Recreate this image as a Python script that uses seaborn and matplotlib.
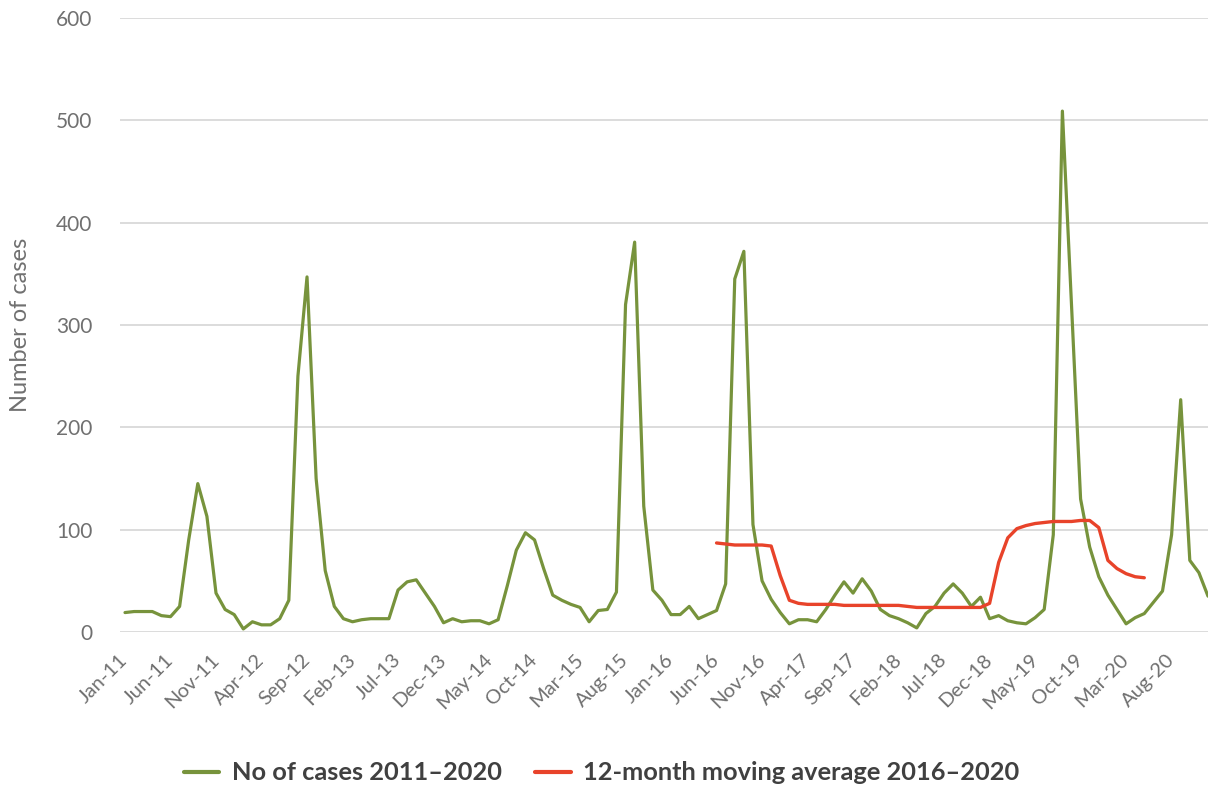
import matplotlib
matplotlib.use("Agg")
import matplotlib.pyplot as plt
import seaborn as sns
import pandas as pd
import numpy as np

# ---------------- data ----------------
months = ["Jan", "Feb", "Mar", "Apr", "May", "Jun", "Jul", "Aug", "Sep", "Oct", "Nov", "Dec"]
years = ["11", "12", "13", "14", "15", "16", "17", "18", "19", "20"]
month_labels = [f"{m}-{y}" for y in years for m in months]

cases_2011 = [19, 20, 20, 20, 16, 15, 25, 90, 145, 113, 38, 22]
cases_2012 = [17, 3, 10, 7, 7, 13, 31, 250, 347, 150, 60, 25]
cases_2013 = [13, 10, 12, 13, 13, 13, 41, 49, 51, 38, 25, 9]
cases_2014 = [13, 10, 11, 11, 8, 12, 45, 80, 97, 90, 62, 36]
cases_2015 = [31, 27, 24, 10, 21, 22, 39, 320, 381, 123, 41, 31]
cases_2016 = [17, 17, 25, 13, 17, 21, 47, 345, 372, 105, 50, 32]
cases_2017 = [19, 8, 12, 12, 10, 22, 36, 49, 38, 52, 40, 22]
cases_2018 = [16, 13, 9, 4, 18, 25, 38, 47, 38, 25, 34, 13]
cases_2019 = [16, 11, 9, 8, 14, 22, 95, 509, 320, 130, 83, 54]
cases_2020 = [36, 22, 8, 14, 18, 29, 40, 95, 227, 70, 58, 35]
cases = (cases_2011 + cases_2012 + cases_2013 + cases_2014 + cases_2015 +
         cases_2016 + cases_2017 + cases_2018 + cases_2019 + cases_2020)

# 12-month moving average, Jun-16 .. Jun-20
ma_start_label = "Jun-16"
moving_avg = [87, 86, 85, 85, 85, 85, 84, 55, 31, 28, 27, 27,
              27, 27, 26, 26, 26, 26, 26, 26, 26, 25, 24, 24,
              24, 24, 24, 24, 24, 24, 28, 68, 92, 101, 104, 106,
              107, 108, 108, 108, 109, 109, 102, 70, 62, 57, 54, 53]

tick_labels = month_labels[::5]

green_label = "No of cases 2011\u20132020"
red_label = "12-month moving average 2016\u20132020"
y_label = "Number of cases"

# ---------------- frames ----------------
idx = np.arange(len(cases))
df_cases = pd.DataFrame({"month": idx, "value": cases})
ma_start = month_labels.index(ma_start_label)
df_ma = pd.DataFrame({"month": np.arange(ma_start, ma_start + len(moving_avg)),
                      "value": moving_avg})

# ---------------- style ----------------
sns.set_theme(style="whitegrid")
plt.rcParams["font.family"] = ["Lato", "DejaVu Sans"]

GREEN = "#77933C"
RED = "#E8432A"
GRID = "#D9D9D9"
TXT = "#707070"

fig = plt.figure(figsize=(12.08, 7.92), dpi=100)
ax = fig.add_axes([120 / 1208, 1 - 632 / 792, 1 - 120 / 1208, (632 - 18) / 792])

sns.lineplot(data=df_cases, x="month", y="value", ax=ax, color=GREEN,
             linewidth=2.3, label=green_label)
sns.lineplot(data=df_ma, x="month", y="value", ax=ax, color=RED,
             linewidth=2.4, label=red_label)

ax.set_xlim(-0.55, len(cases) - 1)
ax.set_ylim(0, 600)
ax.set_yticks(range(0, 601, 100))
ax.set_xticks(idx[::5])
ax.set_xticklabels(tick_labels, rotation=45, ha="right", va="center",
                   rotation_mode="anchor")
ax.tick_params(axis="x", length=0, pad=18, labelsize=14.5, labelcolor=TXT)
ax.tick_params(axis="y", length=0, pad=20, labelsize=15, labelcolor=TXT)

ax.grid(axis="y", color=GRID, linewidth=1.3)
ax.grid(axis="x", visible=False)
for s in ax.spines.values():
    s.set_visible(False)
ax.set_axisbelow(True)
ax.set_facecolor("white")

ax.set_xlabel("")
ax.set_ylabel(y_label, fontsize=17, color=TXT)
ax.yaxis.set_label_coords(-0.082, 0.5)

handles, labels = ax.get_legend_handles_labels()
ax.get_legend().remove()
leg = fig.legend(handles, labels, loc="center", bbox_to_anchor=(0.498, 0.024),
                 ncol=2, frameon=False, handlelength=1.4, handletextpad=0.5,
                 columnspacing=1.3, prop={"size": 18.3, "weight": "bold"})
for t in leg.get_texts():
    t.set_color("#404040")
for l in leg.get_lines():
    l.set_linewidth(3)

fig.savefig("out.png", dpi=100, facecolor="white")
